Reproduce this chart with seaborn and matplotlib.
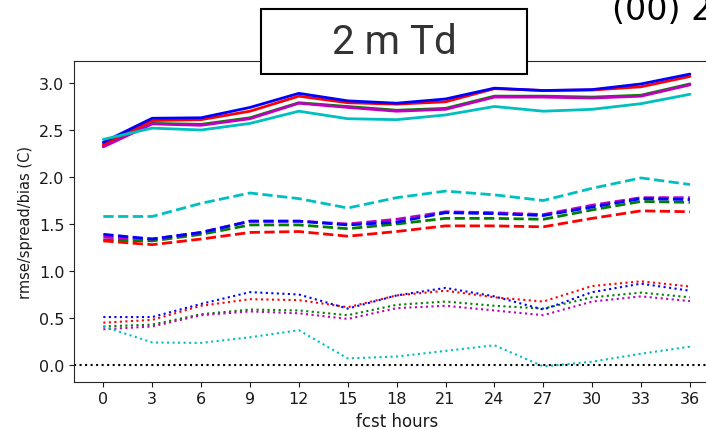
import matplotlib
matplotlib.use("Agg")
import matplotlib.pyplot as plt
import numpy as np
import pandas as pd
import seaborn as sns
from matplotlib.patches import Rectangle

# forecast lead times (hours)
hours = [0, 3, 6, 9, 12, 15, 18, 21, 24, 27, 30, 33, 36]
runs = ["run_b", "run_r", "run_g", "run_m", "run_c"]
run_colors = {"run_b": "b", "run_r": "r", "run_g": "g", "run_m": "m", "run_c": "c"}

# rmse (solid)
rmse_b = [2.37, 2.625, 2.63, 2.74, 2.89, 2.81, 2.785, 2.83, 2.945, 2.92, 2.93, 2.99, 3.095]
rmse_r = [2.35, 2.60, 2.61, 2.70, 2.86, 2.79, 2.775, 2.80, 2.94, 2.92, 2.925, 2.96, 3.07]
rmse_g = [2.33, 2.57, 2.56, 2.63, 2.79, 2.75, 2.71, 2.73, 2.86, 2.86, 2.85, 2.87, 2.99]
rmse_m = [2.32, 2.565, 2.55, 2.62, 2.785, 2.74, 2.70, 2.72, 2.85, 2.85, 2.84, 2.86, 2.98]
rmse_c = [2.40, 2.52, 2.50, 2.57, 2.70, 2.62, 2.61, 2.66, 2.75, 2.70, 2.72, 2.78, 2.88]

# ensemble spread (dashed)
spread_b = [1.39, 1.34, 1.41, 1.53, 1.53, 1.49, 1.52, 1.62, 1.61, 1.59, 1.68, 1.77, 1.76]
spread_r = [1.32, 1.28, 1.34, 1.41, 1.42, 1.37, 1.42, 1.48, 1.48, 1.47, 1.56, 1.64, 1.63]
spread_g = [1.33, 1.32, 1.39, 1.49, 1.49, 1.45, 1.50, 1.56, 1.56, 1.55, 1.65, 1.74, 1.73]
spread_m = [1.36, 1.34, 1.41, 1.53, 1.53, 1.50, 1.55, 1.63, 1.62, 1.60, 1.70, 1.78, 1.78]
spread_c = [1.58, 1.58, 1.72, 1.83, 1.77, 1.67, 1.78, 1.85, 1.81, 1.75, 1.88, 1.99, 1.92]

# bias (dotted)
bias_b = [0.51, 0.51, 0.65, 0.775, 0.75, 0.60, 0.74, 0.82, 0.73, 0.59, 0.775, 0.865, 0.79]
bias_r = [0.45, 0.48, 0.63, 0.70, 0.69, 0.615, 0.74, 0.79, 0.72, 0.675, 0.84, 0.89, 0.835]
bias_g = [0.41, 0.43, 0.54, 0.59, 0.58, 0.53, 0.64, 0.675, 0.63, 0.60, 0.72, 0.77, 0.72]
bias_m = [0.38, 0.41, 0.53, 0.57, 0.55, 0.49, 0.605, 0.63, 0.58, 0.53, 0.675, 0.73, 0.68]
bias_c = [0.41, 0.24, 0.235, 0.295, 0.37, 0.07, 0.09, 0.15, 0.21, -0.015, 0.035, 0.12, 0.195]

title_text = "2 m Td"
corner_text = "(00) 2"

series = {
    "rmse": dict(zip(runs, [rmse_b, rmse_r, rmse_g, rmse_m, rmse_c])),
    "spread": dict(zip(runs, [spread_b, spread_r, spread_g, spread_m, spread_c])),
    "bias": dict(zip(runs, [bias_b, bias_r, bias_g, bias_m, bias_c])),
}
rows = []
for metric, per_run in series.items():
    for run, vals in per_run.items():
        for h, v in zip(hours, vals):
            rows.append({"hour": h, "run": run, "metric": metric, "value": v})
df = pd.DataFrame(rows)

sns.set_style("ticks")
plt.rcParams["font.family"] = ["DejaVu Sans"]

fig = plt.figure(figsize=(7.06, 4.31), dpi=100)
ax = fig.add_axes([0.1048, 0.112, 0.914, 0.7448])

ax.axhline(0.0, color="k", ls=":", lw=1.5, zorder=1)

draw_order = ["run_g", "run_m", "run_r", "run_b", "run_c"]
styles = [("rmse", 2.0, ""), ("spread", 2.0, (3.7, 1.6)), ("bias", 1.5, (1, 1.65))]
for metric, lw, dash in styles:
    sub = df[df["metric"] == metric]
    sns.lineplot(data=sub, x="hour", y="value", hue="run", hue_order=draw_order,
                 palette=run_colors, style="metric", dashes={metric: dash},
                 lw=lw, legend=False, ax=ax, sort=False)

ax.set_xlim(-1.8, 37.8)
ax.set_ylim(-0.178, 3.237)
ax.set_xticks(hours)
ax.set_yticks(np.arange(0, 3.01, 0.5))
ax.tick_params(labelsize=11.5, colors="0.1")
ax.set_xlabel("fcst hours", fontsize=12, color="0.1")
ax.set_ylabel("rmse/spread/bias (C)", fontsize=10.5, color="0.1")

W, H = 706, 431
box = Rectangle((261 / W, 1 - 75 / H), 266 / W, 65 / H, transform=fig.transFigure,
                facecolor="white", edgecolor="black", lw=1.5, zorder=5)
fig.patches.append(box)
fig.text(394 / W, 1 - 43 / H, title_text, ha="center", va="center", fontsize=29,
         family=["Roboto", "DejaVu Sans"], color="#333333", zorder=6)
# run label in the top-right corner, partly running past the edges
fig.text(612 / W, 1 - 20 / H, corner_text, ha="left", va="baseline", fontsize=24,
         color="black", zorder=6)

fig.savefig("out.png", dpi=100)
